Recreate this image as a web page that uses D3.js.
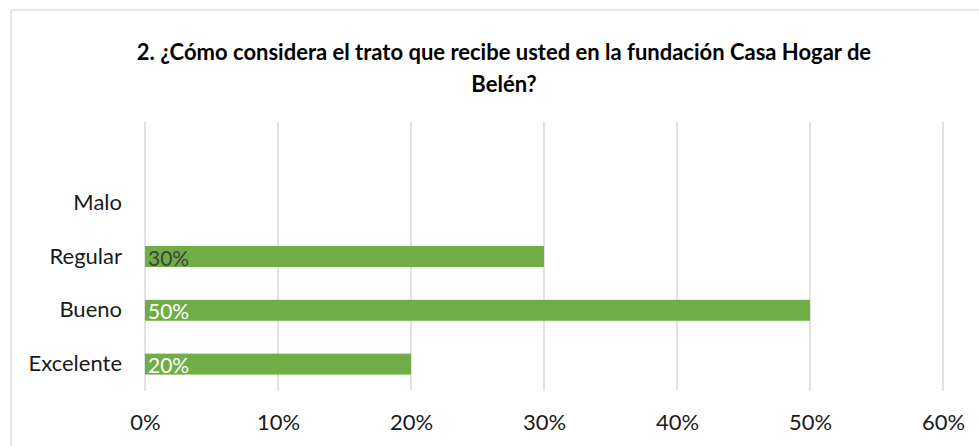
<!DOCTYPE html>
<html>
<head>
<meta charset="utf-8">
<script src="https://cdn.jsdelivr.net/npm/d3@7/dist/d3.min.js"></script>
<style>
  body { margin: 0; background: #fff; }
  text { font-family: Lato, "Open Sans", sans-serif; }
</style>
</head>
<body>
<svg id="chart" width="979" height="446"></svg>
<script>
// datos (de arriba hacia abajo; la primera banda queda vacia)
let categorias = ["", "Malo", "Regular", "Bueno", "Excelente"]
let valores = [null, null, 0.30, 0.50, 0.20]
let colorEtiqueta = [null, null, "#404040", "#ffffff", "#ffffff"]
let ticks = [0, 0.1, 0.2, 0.3, 0.4, 0.5, 0.6]
let titulo = ["2. ¿Cómo considera el trato que recibe usted en la fundación Casa Hogar de", "Belén?"]

let svg = d3.select("#chart")

// marco del grafico
svg.append("rect")
  .attr("x", 11).attr("y", 10)
  .attr("width", 990).attr("height", 450)
  .attr("fill", "#fff")
  .attr("stroke", "#d9d9d9")
  .attr("stroke-width", 1.3)

let plotLeft = 145, plotRight = 943, plotTop = 122, plotBottom = 391

let xScale = d3.scaleLinear().domain([0, 0.6]).range([plotLeft, plotRight])
let yScale = d3.scaleBand().domain(categorias).range([plotTop, plotBottom]).paddingInner(0.61).paddingOuter(0.305)

// lineas de cuadricula
svg.append("g").selectAll("line")
  .data(ticks)
  .join("line")
  .attr("x1", d => xScale(d)).attr("x2", d => xScale(d))
  .attr("y1", plotTop).attr("y2", plotBottom)
  .attr("stroke", "#d9d9d9")
  .attr("stroke-width", 1.5)

// eje x
let xAxis = d3.axisBottom(xScale)
  .tickValues(ticks)
  .tickFormat(d3.format(".0%"))
  .tickSize(0)
  .tickPadding(23)
let xAxisGroup = svg.append("g")
  .attr("transform", `translate(0, ${plotBottom})`)
  .call(xAxis)
xAxisGroup.select(".domain").remove()
xAxisGroup.selectAll("text")
  .attr("font-family", "Lato, sans-serif")
  .attr("font-size", 22)
  .attr("fill", "#1a1a1a")

// eje y
let yAxis = d3.axisLeft(yScale).tickSize(0).tickPadding(23)
let yAxisGroup = svg.append("g")
  .attr("transform", `translate(${plotLeft}, 0)`)
  .call(yAxis)
yAxisGroup.select(".domain").remove()
yAxisGroup.selectAll("text")
  .attr("font-family", "Lato, sans-serif")
  .attr("font-size", 22)
  .attr("fill", "#1a1a1a")

let datos = categorias.map((c, i) => ({ cat: c, val: valores[i], col: colorEtiqueta[i] }))
  .filter(d => d.val != null)

// barras
svg.append("g").selectAll("rect")
  .data(datos)
  .join("rect")
  .attr("x", xScale(0))
  .attr("y", d => yScale(d.cat))
  .attr("width", d => xScale(d.val) - xScale(0))
  .attr("height", yScale.bandwidth())
  .attr("fill", "#70ad47")

// etiquetas de valor
svg.append("g").selectAll("text")
  .data(datos)
  .join("text")
  .attr("x", xScale(0) + 3)
  .attr("y", d => yScale(d.cat) + yScale.bandwidth() / 2 + 9)
  .attr("font-size", 21)
  .attr("fill", d => d.col)
  .text(d => d3.format(".0%")(d.val))

// titulo
svg.append("g").selectAll("text")
  .data(titulo)
  .join("text")
  .attr("x", 504)
  .attr("y", (d, i) => 60 + i * 32)
  .attr("text-anchor", "middle")
  .attr("font-size", 22)
  .attr("font-weight", "bold")
  .attr("fill", "#000")
  .text(d => d)
</script>
</body>
</html>
